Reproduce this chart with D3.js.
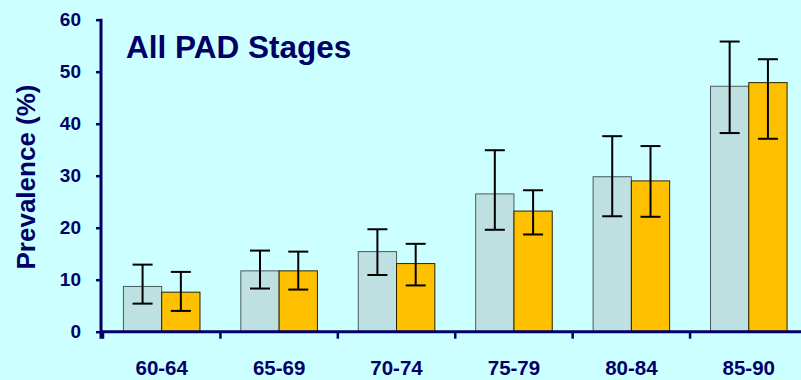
<!DOCTYPE html>
<html>
<head>
<meta charset="utf-8">
<script src="https://cdn.jsdelivr.net/npm/d3@7/dist/d3.min.js"></script>
<style>
  html, body { margin: 0; padding: 0; background: #ccffff; }
  svg { display: block; }
  text { font-family: "Liberation Sans", Arial, sans-serif; font-weight: bold; fill: #000066; }
</style>
</head>
<body>
<svg id="chart" width="801" height="380"></svg>
<script>
// Age groups
const categories = ["60-64", "65-69", "70-74", "75-79", "80-84", "85-90"];
// Two cohorts: prevalence (%) with lower/upper confidence bounds
const seriesA = [8.7, 11.7, 15.4, 26.5, 29.8, 47.2];
const seriesALow = [5.4, 8.3, 10.9, 19.6, 22.2, 38.2];
const seriesAHigh = [12.9, 15.6, 19.7, 34.9, 37.6, 55.8];
const seriesB = [7.6, 11.7, 13.1, 23.2, 29.0, 47.9];
const seriesBLow = [4.0, 8.1, 8.9, 18.7, 22.1, 37.1];
const seriesBHigh = [11.5, 15.4, 16.9, 27.2, 35.7, 52.4];
const yTicks = [0, 10, 20, 30, 40, 50, 60];

const svg = d3.select("#chart");
const axisColor = "#000066";
const plotLeft = 101, plotRight = 807.5, plotTop = 19.7, plotBottom = 331.7;

const x0 = d3.scaleBand().domain(categories).range([103, plotRight])
  .paddingInner(0.348).paddingOuter(0.174);
const x1 = d3.scaleBand().domain(["A", "B"]).range([0, x0.bandwidth()]);
const y = d3.scaleLinear().domain([0, 60]).range([plotBottom, plotTop]);

const rows = categories.map((c, i) => ({
  cat: c,
  vals: [
    { key: "A", v: seriesA[i], lo: seriesALow[i], hi: seriesAHigh[i], fill: "#bfe0e0", stroke: "#4a5a5a" },
    { key: "B", v: seriesB[i], lo: seriesBLow[i], hi: seriesBHigh[i], fill: "#ffc000", stroke: "#2a2200" }
  ]
}));

// Bars
const groups = svg.selectAll("g.grp").data(rows).join("g")
  .attr("class", "grp")
  .attr("transform", d => `translate(${x0(d.cat)},0)`);

groups.selectAll("rect").data(d => d.vals).join("rect")
  .attr("x", d => x1(d.key))
  .attr("y", d => y(d.v))
  .attr("width", x1.bandwidth())
  .attr("height", d => y(0) - y(d.v))
  .attr("fill", d => d.fill)
  .attr("stroke", d => d.stroke)
  .attr("stroke-width", 1);

// Error bars
const eb = groups.selectAll("g.err").data(d => d.vals).join("g").attr("class", "err")
  .attr("stroke", "#000").attr("stroke-width", 2);
const cx = d => x1(d.key) + x1.bandwidth() / 2;
eb.append("line").attr("x1", cx).attr("x2", cx).attr("y1", d => y(d.hi)).attr("y2", d => y(d.lo));
eb.append("line").attr("x1", d => cx(d) - 10).attr("x2", d => cx(d) + 10).attr("y1", d => y(d.hi)).attr("y2", d => y(d.hi));
eb.append("line").attr("x1", d => cx(d) - 10).attr("x2", d => cx(d) + 10).attr("y1", d => y(d.lo)).attr("y2", d => y(d.lo));

// Y axis
const yAxis = svg.append("g").attr("transform", `translate(${plotLeft},0)`)
  .call(d3.axisLeft(y).tickValues(yTicks).tickSize(5).tickPadding(15));
yAxis.select(".domain").remove();
yAxis.selectAll(".tick line").attr("stroke", axisColor).attr("stroke-width", 2.5);
yAxis.selectAll(".tick text").attr("font-size", 19).attr("fill", axisColor)
  .style("font-family", "'Liberation Sans', Arial, sans-serif").style("font-weight", "bold");
svg.append("line").attr("x1", plotLeft).attr("x2", plotLeft).attr("y1", plotTop - 1).attr("y2", plotBottom + 7)
  .attr("stroke", axisColor).attr("stroke-width", 3);

// X axis line, boundary ticks and labels
svg.append("line").attr("x1", plotLeft).attr("x2", 801).attr("y1", plotBottom).attr("y2", plotBottom)
  .attr("stroke", axisColor).attr("stroke-width", 3);
const step = x0.step();
svg.selectAll("line.bt").data(categories).join("line").attr("class", "bt")
  .attr("x1", d => x0(d) - step * 0.174).attr("x2", d => x0(d) - step * 0.174)
  .attr("y1", plotBottom).attr("y2", plotBottom + 7)
  .attr("stroke", axisColor).attr("stroke-width", 2.5);
svg.selectAll("text.cat").data(categories).join("text").attr("class", "cat")
  .attr("x", d => x0(d) + x0.bandwidth() / 2)
  .attr("y", 375)
  .attr("text-anchor", "middle")
  .attr("font-size", 20.5)
  .text(d => d);

// Titles
svg.append("text").attr("x", 126).attr("y", 58).attr("font-size", 31.5).text("All PAD Stages");
svg.append("text")
  .attr("transform", "translate(35,177) rotate(-90)")
  .attr("text-anchor", "middle")
  .attr("font-size", 26)
  .text("Prevalence (%)");
</script>
</body>
</html>
